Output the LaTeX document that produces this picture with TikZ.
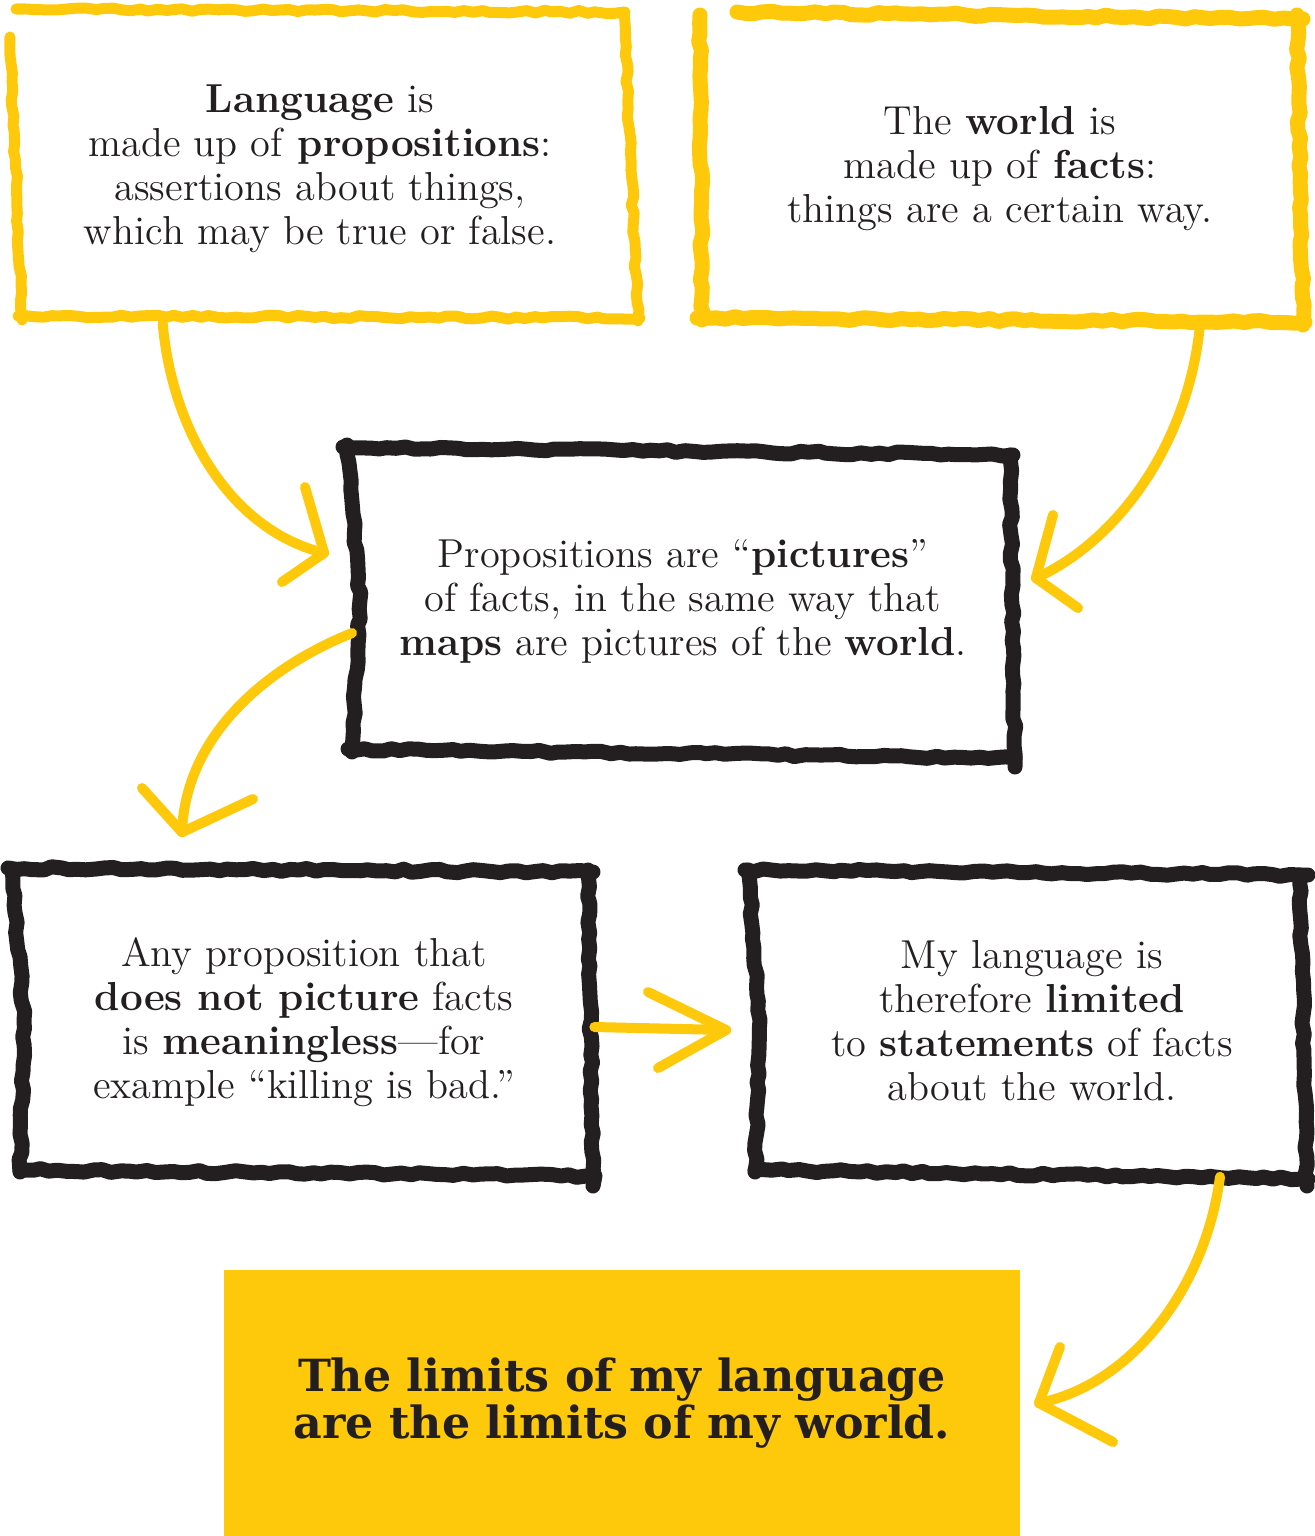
\documentclass[tikz,border=0pt]{standalone}
\usepackage{fontspec}
\newfontfamily\heavyfont{DejaVu Serif}
\usetikzlibrary{decorations.pathmorphing,calc}
\definecolor{ylw}{RGB}{254,201,10}
\definecolor{ink}{RGB}{35,31,32}
\begin{document}
\pgfmathsetseed{11}
\begin{tikzpicture}[x=0.01cm,y=-0.01cm,
  txt/.style={align=center, inner sep=0pt, text=ink, font=\fontsize{11.5}{12.5}\selectfont},
  yb/.style={draw=ylw, line width=0.11cm, line cap=round, line join=round, decorate,
    decoration={random steps, segment length=2.5pt, amplitude=0.45pt}},
  ybb/.style={yb, line width=0.15cm},
  kb/.style={draw=ink, line width=0.15cm, line cap=round, line join=round, decorate,
    decoration={random steps, segment length=2.5pt, amplitude=0.45pt}},
  arr/.style={draw=ylw, line width=0.1cm, line cap=round, line join=round},
]
\useasboundingbox (0,0) rectangle (1315,1536);

% ---------- text boxes ----------
\node[txt, minimum width=6.2cm, minimum height=3.07cm] (tl) at (320,169)
  {\textbf{Language} is\\ made up of \textbf{propositions}:\\ assertions about things,\\ which may be true or false.};
\node[txt, minimum width=5.98cm, minimum height=3.03cm] (tr) at (1000,169)
  {The \textbf{world} is\\ made up of \textbf{facts}:\\ things are a certain way.};
\node[txt, minimum width=6.58cm, minimum height=3.02cm] (mid) at (683,601)
  {Propositions are ``\textbf{pictures}''\\ of facts, in the same way that\\ \textbf{maps} are pictures of the \textbf{world}.};
\node[txt, minimum width=5.73cm, minimum height=3.02cm] (bl) at (304,1022)
  {Any proposition that\\ \textbf{does not picture} facts\\ is \textbf{meaningless}---for\\ example ``killing is bad.''};
\node[txt, minimum width=5.52cm, minimum height=2.98cm] (br) at (1032,1021)
  {My language is\\ therefore \textbf{limited}\\ to \textbf{statements} of facts\\ about the world.};
\node[fill=ylw, text=ink, align=center, inner sep=0pt, minimum width=7.96cm, minimum height=2.66cm,
  font=\heavyfont\bfseries\fontsize{12.6}{13.6}\selectfont] (fin) at (622,1403)
  {The limits of my language\\ are the limits of my world.};

% ---------- hand-drawn borders ----------
% top-left (yellow)
\draw[yb] (16,9) -- (625,12);
\draw[yb] (624,12) -- (638,321);
\draw[yb] (640,318) -- (18,316);
\draw[yb] (10,37) -- (22,320);
% top-right (yellow, thicker)
\draw[ybb] (737,12) -- (1303,19);
\draw[ybb] (1297,15) -- (1303,325);
\draw[ybb] (1305,322) -- (697,318);
\draw[ybb] (700,15) -- (702,320);
% middle (black)
\draw[kb] (343,447) -- (1013,455);
\draw[kb] (1010,455) -- (1015,767);
\draw[kb] (1015,758) -- (348,749);
\draw[kb] (347,445) -- (360,600) -- (352,752);
% bottom-left (black)
\draw[kb] (8,868) -- (593,872);
\draw[kb] (588,870) -- (593,1186);
\draw[kb] (595,1176) -- (20,1170);
\draw[kb] (12,870) -- (24,1020) -- (20,1172);
% bottom-right (black)
\draw[kb] (745,870) -- (1308,875);
\draw[kb] (1300,875) -- (1307,1186);
\draw[kb] (1308,1179) -- (755,1170);
\draw[kb] (748,870) -- (760,1020) -- (755,1172);

% ---------- arrows ----------
\coordinate (a1s) at ($(tl.south west)!0.247!(tl.south east)$);
\coordinate (a1t) at ([shift={(-29,-48)}]mid.west);
\draw[arr] (a1s) .. controls (172,430) and (230,530) .. (a1t);
\draw[arr] (305,487) -- (a1t) -- (282,582);

\coordinate (a2s) at ($(tr.south west)!0.834!(tr.south east)$);
\coordinate (a2t) at ([shift={(23,-23)}]mid.east);
\draw[arr] (a2s) .. controls (1190,440) and (1120,540) .. (a2t);
\draw[arr] (1053,515) -- (a2t) -- (1078,608);

\coordinate (a3s) at ([shift={(-1,32)}]mid.west);
\coordinate (a3t) at ([shift={(-122,-38)}]bl.north);
\draw[arr] (a3s) .. controls (260,670) and (185,740) .. (a3t);
\draw[arr] (142,788) -- (a3t) -- (253,799);

\coordinate (a4s) at ([shift={(3,5)}]bl.east);
\coordinate (a4t) at ([shift={(-29,9)}]br.west);
\draw[arr] (a4s) -- (a4t);
\draw[arr] (648,992) -- (a4t) -- (658,1068);

\coordinate (a5s) at ([shift={(188,6)}]br.south);
\coordinate (a5t) at ([shift={(18,0)}]fin.east);
\draw[arr] (a5s) .. controls (1205,1290) and (1130,1385) .. (a5t);
\draw[arr] (1060,1347) -- (a5t) -- (1113,1442);
\end{tikzpicture}
\end{document}
